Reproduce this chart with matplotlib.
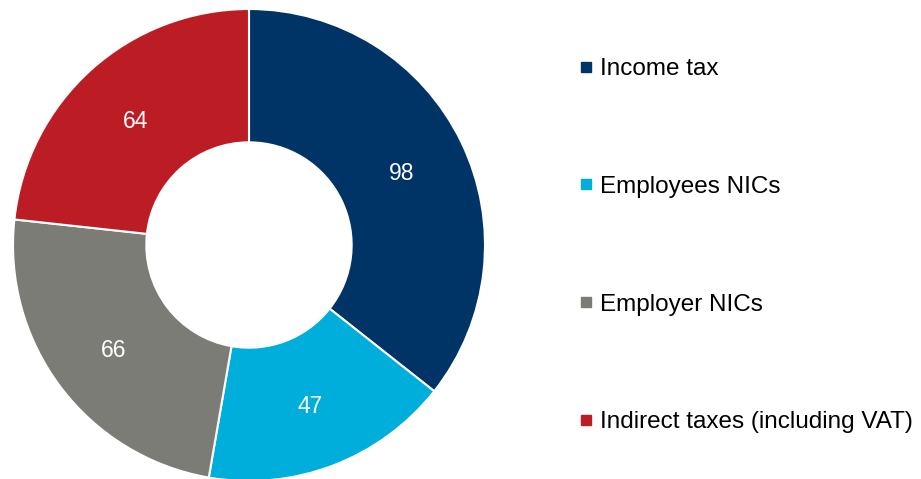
import matplotlib.pyplot as plt
from matplotlib.lines import Line2D

plt.rcParams['font.family'] = ['Liberation Sans', 'DejaVu Sans']

categories = ["Income tax", "Employees NICs", "Employer NICs", "Indirect taxes (including VAT)"]
values = [98, 47, 66, 64]
colours = ["#003366", "#00AEDB", "#7C7C77", "#BC1C24"]

total = sum(values)

fig = plt.figure(figsize=(9.21, 4.79), dpi=100)

# donut sits on the left, 472px across
ax = fig.add_axes([13 / 921, -2 / 479, 472 / 921, 472 / 479])
wedges, texts, autotexts = ax.pie(
    values,
    colors=colours,
    startangle=90,
    counterclock=False,
    radius=1.0,
    autopct=lambda p: f"{p * total / 100:.0f}",
    pctdistance=0.72,
    wedgeprops=dict(width=0.565, edgecolor="white", linewidth=1.5),
    textprops=dict(color="white", fontsize=16.5),
)
# nudge the value labels down a touch
for t in autotexts:
    x, y = t.get_position()
    t.set_position((x, y - 0.013))
ax.set_xlim(-1, 1)
ax.set_ylim(-1, 1)
ax.set_aspect("equal")
ax.axis("off")

handles = [Line2D([], [], marker="s", linestyle="none", markersize=7.5,
                  markerfacecolor=c, markeredgecolor=c) for c in colours]
fig.legend(handles, categories, loc="upper left",
           bbox_to_anchor=(579 / 921, 1 - 58 / 479),
           frameon=False, fontsize=17.5, handlelength=0.55, handletextpad=0.3,
           labelspacing=3.94, borderpad=0, borderaxespad=0)

fig.savefig("out.png", dpi=100)
